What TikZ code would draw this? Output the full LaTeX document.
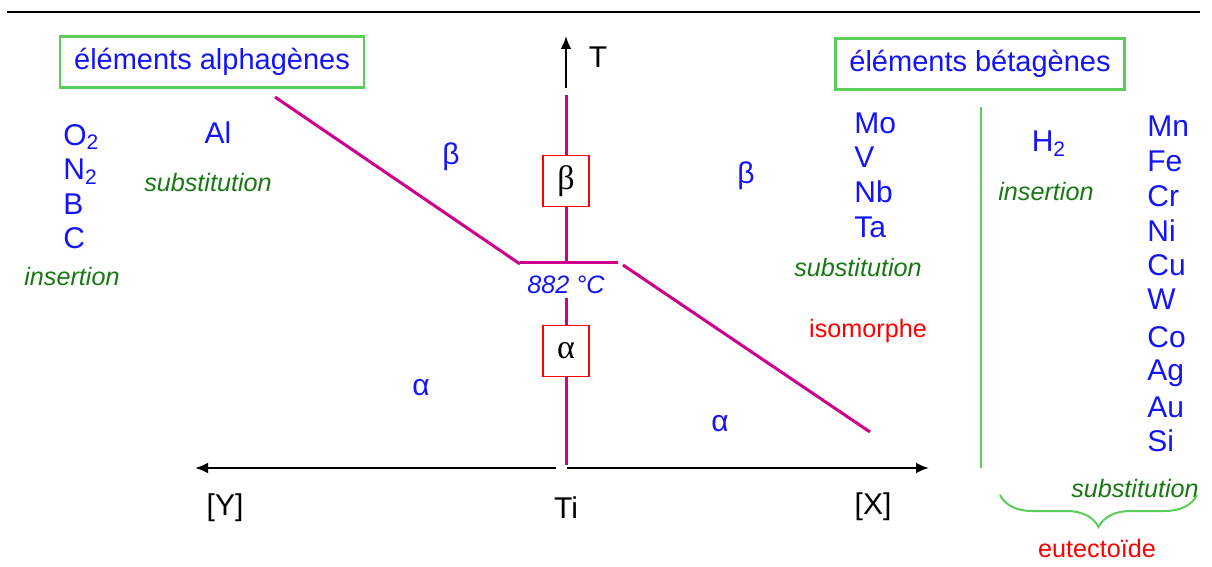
\documentclass[tikz,border=0pt]{standalone}
\usepackage{fontspec}
\setmainfont{Liberation Sans}
\newfontfamily\grserif{Liberation Serif}
\usetikzlibrary{arrows.meta,decorations.pathreplacing}

\definecolor{elblue}{RGB}{20,20,250}
\definecolor{modegreen}{RGB}{25,120,20}
\definecolor{boxgreen}{RGB}{90,205,90}
\definecolor{transmag}{RGB}{205,0,140}

\begin{document}
\begin{tikzpicture}[x=0.5pt, y=-0.5pt,
      famille/.style={draw=boxgreen, line width=1.1pt, text=elblue, inner xsep=7pt,
        minimum height=25.5pt, font=\fontsize{14.5}{17}\selectfont},
      elem/.style={text=elblue, inner sep=1pt, font=\fontsize{15}{18}\selectfont},
      grk/.style={text=elblue, font=\fontsize{15}{18}\selectfont},
      mode/.style={text=modegreen, inner sep=1pt, font=\fontsize{12.6}{15}\selectfont\itshape},
      typ/.style={text=red, font=\fontsize{12.6}{15}\selectfont},
      phase/.style={draw=red, line width=0.9pt, fill=white, minimum width=23pt,
        minimum height=25.5pt, inner sep=0pt, font=\grserif\fontsize{17}{19}\selectfont},
      axlbl/.style={font=\fontsize{15}{18}\selectfont},
      liq/.style={draw=transmag, line width=1.5pt},
      ax/.style={-{Latex[length=6.5pt, width=5.5pt]}, line width=1.2pt},
      sep/.style={draw=boxgreen, line width=1pt}]
    \useasboundingbox (0,0) rectangle (1212,567);
    \draw[line width=1.2pt] (7,12) -- (1200,12);

    \node[famille] (alpha) at (212,62) {éléments alphagènes};
    \node[famille] (beta) at (980,64) {éléments bétagènes};

    % axe T et transition du titane pur
    \coordinate (t0) at (566,88);
    \coordinate (t1) at (566,36);
    \draw[ax] (t0) -- (t1);
    \node[axlbl] (T) at (598,57) {T};
    \coordinate (ttop) at (566,95);
    \node[phase] (pb) at (566,181) {β};
    \coordinate (tri) at (566,263);
    \coordinate (trl) at (520,263);
    \coordinate (trr) at (618,263);
    \node[text=elblue, font=\fontsize{12.6}{15}\selectfont\itshape, inner sep=2pt] (temp) at (566,285) {882 °C};
    \node[phase] (pa) at (566,351) {α};
    \coordinate (tbot) at (566,465);
    \draw[liq] (ttop) -- (pb);
    \draw[liq] (pb) -- (tri);
    \draw[liq] (trl) -- (trr);
    \draw[liq] (temp) -- (pa);
    \draw[liq] (pa) -- (tbot);

    % transus
    \coordinate (ya) at (275,97);
    \coordinate (yb) at (520,264);
    \coordinate (xa) at (623,265);
    \coordinate (xb) at (870,432);
    \draw[liq] (ya) -- (yb);
    \draw[liq] (xa) -- (xb);

    % axes de composition
    \coordinate (ol) at (556,468);
    \coordinate (yend) at (195,468);
    \coordinate (or) at (567,468);
    \coordinate (xend) at (929,468);
    \draw[ax] (ol) -- (yend);
    \draw[ax] (or) -- (xend);
    \node[axlbl] (Y) at (225,508) {[Y]};
    \node[axlbl] (Ti) at (566,508) {Ti};
    \node[axlbl] (X) at (873,507) {[X]};

    \node[grk] (bl) at (451,157) {β};
    \node[grk] (al) at (421,388) {α};
    \node[grk] (br) at (746,176) {β};
    \node[grk] (ar) at (720,424) {α};

    % alphagenes
    \node[elem, anchor=west] (O) at (61,137) {O\textsubscript{2}};
    \node[elem, anchor=west] (N) at (61,172) {N\textsubscript{2}};
    \node[elem, anchor=west] (B) at (61,204) {B};
    \node[elem, anchor=west] (C) at (61,238) {C};
    \node[mode] (insA) at (72,276) {insertion};
    \node[elem] (Al) at (218,133) {Al};
    \node[mode] (subA) at (208,182) {substitution};

    % betagenes isomorphes
    \node[elem, anchor=west] (Mo) at (852,123) {Mo};
    \node[elem, anchor=west] (V) at (852,157) {V};
    \node[elem, anchor=west] (Nb) at (852,192) {Nb};
    \node[elem, anchor=west] (Ta) at (852,227) {Ta};
    \node[mode] (subI) at (858,267) {substitution};
    \node[typ] (iso) at (868,331) {isomorphe};

    \coordinate (s0) at (981,107);
    \coordinate (s1) at (981,468);
    \draw[sep] (s0) -- (s1);

    % betagenes eutectoides
    \node[elem] (H) at (1049,144) {H\textsubscript{2}};
    \node[mode] (insE) at (1046,191) {insertion};
    \node[elem, anchor=west] (Mn) at (1145,126) {Mn};
    \node[elem, anchor=west] (Fe) at (1145,161) {Fe};
    \node[elem, anchor=west] (Cr) at (1145,196) {Cr};
    \node[elem, anchor=west] (Ni) at (1145,231) {Ni};
    \node[elem, anchor=west] (Cu) at (1145,265) {Cu};
    \node[elem, anchor=west] (W) at (1145,299) {W};
    \node[elem, anchor=west] (Co) at (1145,337) {Co};
    \node[elem, anchor=west] (Ag) at (1145,373) {Ag};
    \node[elem, anchor=west] (Au) at (1145,407) {Au};
    \node[elem, anchor=west] (Si) at (1145,441) {Si};
    \node[mode] (subE) at (1135,488) {substitution};
    \coordinate (b0) at (1000,495);
    \coordinate (b1) at (1197,495);
    \draw[sep, decorate, decoration={brace, mirror, amplitude=16pt}] (b0) -- (b1);
    \node[typ] (eut) at (1097,548) {eutectoïde};
  \end{tikzpicture}
\end{document}
